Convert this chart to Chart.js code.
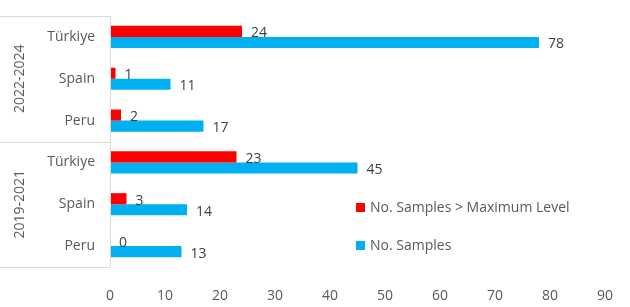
<!DOCTYPE html>
<html>
<head>
<meta charset="utf-8">
<script src="https://cdn.jsdelivr.net/npm/chart.js@4"></script>
<style>
  html, body { margin: 0; padding: 0; background: #fff; }
  #wrap { width: 630px; height: 307px; }
</style>
</head>
<body>
<div id="wrap"><canvas id="chart"></canvas></div>
<script>
// --- data ---
const periods = ['2022-2024', '2019-2021'];
const countries = ['Türkiye', 'Spain', 'Peru', 'Türkiye', 'Spain', 'Peru'];
const overMaxLevel = [24, 1, 2, 23, 3, 0];
const totalSamples = [78, 11, 17, 45, 14, 13];
const xTicks = [0, 10, 20, 30, 40, 50, 60, 70, 80, 90];

const FONT = "'Open Sans', 'Liberation Sans', sans-serif";
const TXT = '#595959';
const LINE = '#d9d9d9';

// value labels at the end of each bar
const valueLabels = {
  id: 'valueLabels',
  afterDatasetsDraw(chart) {
    const ctx = chart.ctx;
    ctx.save();
    ctx.font = '14px ' + FONT;
    ctx.fillStyle = '#404040';
    ctx.textAlign = 'left';
    ctx.textBaseline = 'middle';
    chart.data.datasets.forEach((ds, i) => {
      chart.getDatasetMeta(i).data.forEach((bar, j) => {
        ctx.fillText(String(ds.data[j]), bar.x + 9, bar.y + 2);
      });
    });
    ctx.restore();
  }
};

// two-level category box + group labels on the left
const groupAxis = {
  id: 'groupAxis',
  afterDraw(chart) {
    const ctx = chart.ctx;
    const y = chart.scales.y;
    const area = chart.chartArea;
    const per = countries.length / periods.length;
    ctx.save();
    ctx.strokeStyle = LINE;
    ctx.lineWidth = 1;
    // vertical axis line
    ctx.beginPath();
    ctx.moveTo(area.left + 0.5, area.top);
    ctx.lineTo(area.left + 0.5, area.bottom);
    ctx.stroke();
    // group separators
    const step = (area.bottom - area.top) / countries.length;
    for (let g = 0; g <= periods.length; g++) {
      const yy = Math.round(area.top + g * per * step) + 0.5;
      ctx.beginPath();
      ctx.moveTo(0, yy);
      ctx.lineTo(area.left, yy);
      ctx.stroke();
    }
    // group labels, rotated
    ctx.fillStyle = TXT;
    ctx.font = '14px ' + FONT;
    ctx.textAlign = 'center';
    ctx.textBaseline = 'middle';
    periods.forEach((p, g) => {
      const cy = (y.getPixelForValue(g * per) + y.getPixelForValue(g * per + per - 1)) / 2;
      ctx.save();
      ctx.translate(20, cy);
      ctx.rotate(-Math.PI / 2);
      ctx.fillText(p, 0, 0);
      ctx.restore();
    });
    ctx.restore();
  }
};

// legend inside the plot, lower right
const innerLegend = {
  id: 'innerLegend',
  afterDraw(chart) {
    const ctx = chart.ctx;
    ctx.save();
    ctx.font = '14px ' + FONT;
    ctx.textAlign = 'left';
    ctx.textBaseline = 'middle';
    const rows = [208, 246];
    chart.data.datasets.forEach((ds, i) => {
      ctx.fillStyle = ds.backgroundColor;
      ctx.fillRect(356, rows[i] - 5, 9, 9);
      ctx.fillStyle = TXT;
      ctx.fillText(ds.label, 370, rows[i]);
    });
    ctx.restore();
  }
};

new Chart(document.getElementById('chart'), {
  type: 'bar',
  data: {
    labels: countries,
    datasets: [
      { label: 'No. Samples > Maximum Level', data: overMaxLevel, backgroundColor: '#FF0000' },
      { label: 'No. Samples', data: totalSamples, backgroundColor: '#00B0F0' }
    ]
  },
  options: {
    indexAxis: 'y',
    responsive: true,
    maintainAspectRatio: false,
    animation: false,
    layout: { padding: { top: 16, right: 25, bottom: 0, left: 0 } },
    datasets: { bar: { categoryPercentage: 0.53, barPercentage: 1 } },
    plugins: { legend: { display: false }, tooltip: { enabled: false } },
    scales: {
      x: {
        min: 0, max: 90,
        afterBuildTicks: (s) => { s.ticks = xTicks.map(v => ({ value: v })); },
        afterFit: (s) => { s.height = 40; s.paddingLeft = 0; s.paddingRight = 0; },
        grid: { display: false, drawTicks: false },
        border: { display: false },
        ticks: { color: TXT, font: { size: 14, family: FONT }, padding: 21 }
      },
      y: {
        grid: { display: false, drawTicks: false },
        border: { display: false },
        afterFit: (s) => { s.width = 110; s.paddingTop = 0; s.paddingBottom = 0; },
        ticks: { color: TXT, font: { size: 14, family: FONT }, padding: 15 }
      }
    }
  },
  plugins: [valueLabels, groupAxis, innerLegend]
});
</script>
</body>
</html>
